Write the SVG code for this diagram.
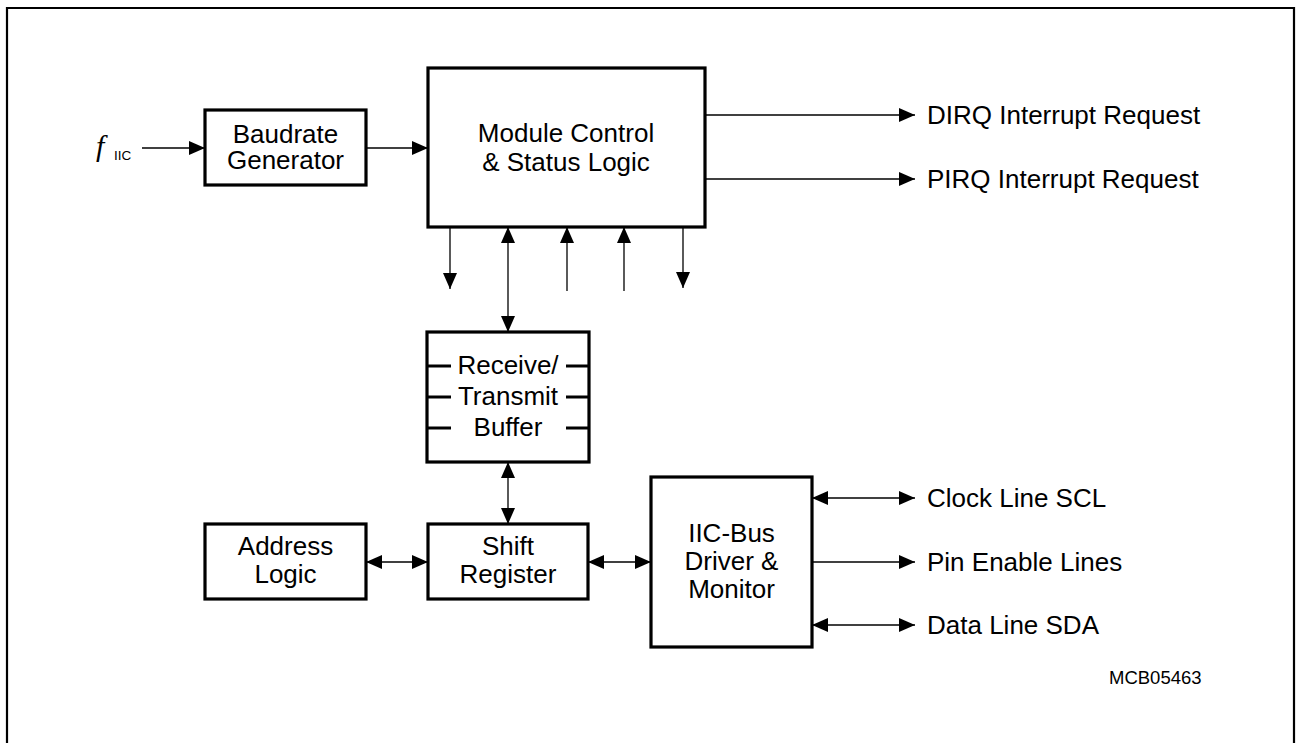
<svg xmlns="http://www.w3.org/2000/svg" width="1297" height="743" viewBox="0 0 1297 743">
<style>
.box{fill:#fff;stroke:#000;stroke-width:3.2}
.ln{fill:none;stroke:#000;stroke-width:1.3}
.tk{fill:none;stroke:#000;stroke-width:3}
text{font-family:"Liberation Sans",Arial,sans-serif;font-size:26px;fill:#000}
.c{text-anchor:middle}
.fi{font-family:"Liberation Serif","Times New Roman",serif;font-style:italic;font-size:30px}
.sub{font-size:13.5px}
.id{font-size:18.5px}
</style>
<defs>
<marker id="ah" viewBox="0 0 16 14" refX="16" refY="7" markerWidth="16" markerHeight="14" markerUnits="userSpaceOnUse" orient="auto-start-reverse">
<path d="M0,0 L16,7 L0,14 z" fill="#000"/>
</marker>
</defs>
<rect width="1297" height="743" fill="#fff"/>
<path d="M7,745 V8 H1294 V745" fill="none" stroke="#000" stroke-width="2.2"/>

<g id="connectors">
<line class="ln" x1="142" y1="148" x2="205" y2="148" marker-end="url(#ah)"/>
<line class="ln" x1="366" y1="148" x2="428" y2="148" marker-end="url(#ah)"/>
<line class="ln" x1="705" y1="115" x2="915" y2="115" marker-end="url(#ah)"/>
<line class="ln" x1="705" y1="179" x2="915" y2="179" marker-end="url(#ah)"/>
<line class="ln" x1="450" y1="227" x2="450" y2="289" marker-end="url(#ah)"/>
<line class="ln" x1="508" y1="227" x2="508" y2="332" marker-start="url(#ah)" marker-end="url(#ah)"/>
<line class="ln" x1="567" y1="291" x2="567" y2="227" marker-end="url(#ah)"/>
<line class="ln" x1="624" y1="291" x2="624" y2="227" marker-end="url(#ah)"/>
<line class="ln" x1="683" y1="227" x2="683" y2="288" marker-end="url(#ah)"/>
<line class="ln" x1="508" y1="462" x2="508" y2="524" marker-start="url(#ah)" marker-end="url(#ah)"/>
<line class="ln" x1="366" y1="562" x2="428" y2="562" marker-start="url(#ah)" marker-end="url(#ah)"/>
<line class="ln" x1="588" y1="562" x2="651" y2="562" marker-start="url(#ah)" marker-end="url(#ah)"/>
<line class="ln" x1="812" y1="498" x2="915" y2="498" marker-start="url(#ah)" marker-end="url(#ah)"/>
<line class="ln" x1="812" y1="562" x2="915" y2="562" marker-end="url(#ah)"/>
<line class="ln" x1="812" y1="625" x2="915" y2="625" marker-start="url(#ah)" marker-end="url(#ah)"/>
</g>

<g id="fiic">
<text class="fi" x="96" y="156">f</text>
<text class="sub" x="114" y="160">IIC</text>
</g>

<g id="baudrate">
<rect class="box" x="205" y="110" width="161" height="75"/>
<text class="c" x="285.5" y="143">Baudrate</text>
<text class="c" x="285.5" y="169">Generator</text>
</g>

<g id="module-control">
<rect class="box" x="428" y="68" width="277" height="159"/>
<text class="c" x="566" y="142">Module Control</text>
<text class="c" x="566" y="171">&amp; Status Logic</text>
</g>

<g id="buffer">
<rect class="box" x="427" y="332" width="162" height="130"/>
<path class="tk" d="M427,366 H451 M427,397 H451 M427,428 H451 M566,366 H589 M566,397 H589 M566,428 H589"/>
<text class="c" x="508" y="374">Receive/</text>
<text class="c" x="508" y="405">Transmit</text>
<text class="c" x="508" y="436">Buffer</text>
</g>

<g id="address-logic">
<rect class="box" x="205" y="524" width="161" height="75"/>
<text class="c" x="285.5" y="555">Address</text>
<text class="c" x="285.5" y="583">Logic</text>
</g>

<g id="shift-register">
<rect class="box" x="428" y="524" width="160" height="75"/>
<text class="c" x="508" y="555">Shift</text>
<text class="c" x="508" y="583">Register</text>
</g>

<g id="iic-bus">
<rect class="box" x="651" y="477" width="161" height="170"/>
<text class="c" x="731.5" y="542">IIC-Bus</text>
<text class="c" x="731.5" y="570">Driver &amp;</text>
<text class="c" x="731.5" y="598">Monitor</text>
</g>

<g id="labels">
<text x="927" y="124">DIRQ Interrupt Request</text>
<text x="927" y="188">PIRQ Interrupt Request</text>
<text x="927" y="507">Clock Line SCL</text>
<text x="927" y="571">Pin Enable Lines</text>
<text x="927" y="634">Data Line SDA</text>
<text class="id" x="1109" y="684">MCB05463</text>
</g>
</svg>
